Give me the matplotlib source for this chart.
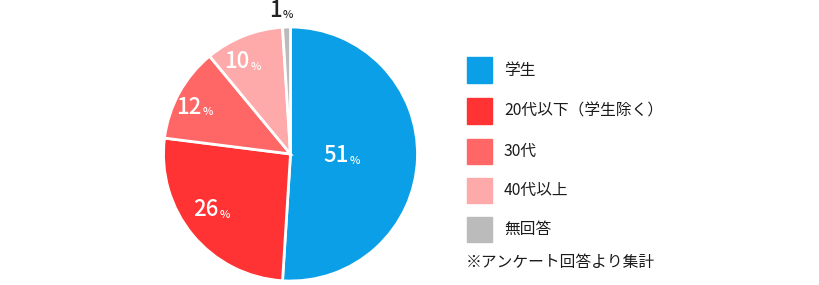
import numpy as np
import matplotlib
matplotlib.use("Agg")
import matplotlib.pyplot as plt

plt.rcParams['font.family'] = ['Noto Sans CJK JP', 'DejaVu Sans']

categories = ["学生", "20代以下（学生除く）", "30代", "40代以上", "無回答"]
values = [51, 26, 12, 10, 1]
colors = ["#0a9fe6", "#ff3333", "#ff6666", "#ffaaaa", "#bbbbbb"]
label_r = [0.49, 0.69, 0.76, 0.78, 1.13]
label_colors = ["white", "white", "white", "white", "#222222"]
note = "※アンケート回答より集計"

W, H = 820, 285
fig = plt.figure(figsize=(W/100, H/100), dpi=100)
cx, cy, R = 290.5, 154, 127
ax = fig.add_axes([(cx-R)/W, (H-cy-R)/H, 2*R/W, 2*R/H])
wedges, _ = ax.pie(values, colors=colors, startangle=90, counterclock=False,
                   wedgeprops=dict(edgecolor="white", linewidth=2), radius=1)
ax.set_xlim(-1, 1); ax.set_ylim(-1, 1)
ax.set_aspect('equal')
ax.axis('off')

for w, v, r, c in zip(wedges, values, label_r, label_colors):
    ang = np.deg2rad((w.theta1 + w.theta2) / 2)
    x, y = r*np.cos(ang), r*np.sin(ang)
    ax.annotate(f"{v}", xy=(x, y), xytext=(-3, 0), textcoords="offset points",
                ha="right", va="center", fontsize=16, color=c, fontweight="medium",
                annotation_clip=False)
    ax.annotate("%", xy=(x, y), xytext=(-2.5, -3.5), textcoords="offset points",
                ha="left", va="center", fontsize=8, color=c, fontweight="medium",
                annotation_clip=False)

# legend
sq = 25
ys = [70, 111, 151, 190, 229]
for cat, col, yc in zip(categories, colors, ys):
    fig.patches.append(plt.Rectangle((467/W, (H-yc-sq/2)/H), sq/W, sq/H,
                                     transform=fig.transFigure, color=col))
    fig.text(504/W, (H-yc)/H, cat, ha="left", va="center", fontsize=11.3, color="#1a1a1a")
fig.text(466/W, (H-263)/H, note, ha="left", va="center", fontsize=11.3, color="#1a1a1a")

fig.savefig("out.png", dpi=100, facecolor="white")
